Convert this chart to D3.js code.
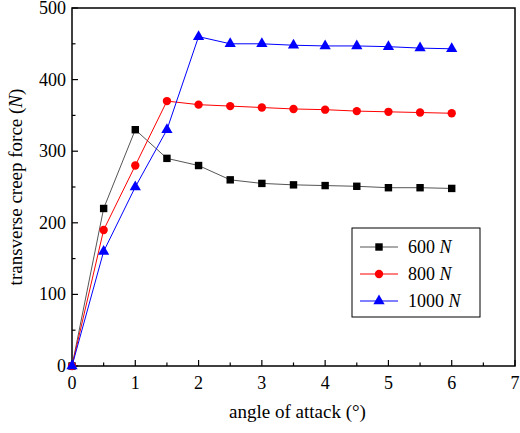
<!DOCTYPE html>
<html><head><meta charset="utf-8">
<script src="https://cdn.jsdelivr.net/npm/d3@7"></script>
<style>body{margin:0;background:#fff}svg text{font-family:"Liberation Serif","DejaVu Serif",serif}</style>
</head><body>
<svg id="c" width="520" height="433"></svg>
<script>
var angles = [0, 0.5, 1, 1.5, 2, 2.5, 3, 3.5, 4, 4.5, 5, 5.5, 6];
var f600 = [0, 220, 330, 290, 280, 260, 255, 253, 252, 251, 249, 249, 248];
var f800 = [0, 190, 280, 370, 365, 363, 361, 359, 358, 356, 355, 354, 353];
var f1000 = [0, 160, 250, 330, 460, 450, 450, 448, 447, 447, 446, 444, 443];
var seriesNames = ["600", "800", "1000"];
var xTicks = [0, 1, 2, 3, 4, 5, 6, 7];
var yTicks = [0, 100, 200, 300, 400, 500];

var svg = d3.select("#c");
var L = 72, R = 515, T = 8, B = 366;
var x = d3.scaleLinear().domain([0, 7]).range([L, R]);
var y = d3.scaleLinear().domain([0, 500]).range([B, T]);

// frame
svg.append("rect").attr("x", L).attr("y", T).attr("width", R - L).attr("height", B - T)
	.attr("fill", "none").attr("stroke", "#000").attr("stroke-width", 1.5);

// ticks (inward, with minors)
var g = svg.append("g").attr("stroke", "#000").attr("stroke-width", 1.2);
d3.range(0, 7.01, 0.5).forEach(function(v) {
	var len = v % 1 === 0 ? 6 : 3.5;
	g.append("line").attr("x1", x(v)).attr("x2", x(v)).attr("y1", B).attr("y2", B - len);
});
d3.range(0, 501, 50).forEach(function(v) {
	var len = v % 100 === 0 ? 6 : 3.5;
	g.append("line").attr("x1", L).attr("x2", L + len).attr("y1", y(v)).attr("y2", y(v));
});
svg.selectAll(".xt").data(xTicks).enter().append("text")
	.attr("x", function(d) { return x(d); }).attr("y", B + 23)
	.attr("text-anchor", "middle").attr("font-size", 18).text(function(d) { return d; });
svg.selectAll(".yt").data(yTicks).enter().append("text")
	.attr("x", L - 6).attr("y", function(d) { return y(d) + 6; })
	.attr("text-anchor", "end").attr("font-size", 18).text(function(d) { return d; });

svg.append("text").attr("x", (L + R) / 2 + 4).attr("y", 418).attr("text-anchor", "middle")
	.attr("font-size", 19).text("angle of attack (°)");
var yl = svg.append("text").attr("transform", "translate(22," + ((T + B) / 2) + ") rotate(-90)")
	.attr("text-anchor", "middle").attr("font-size", 19);
yl.append("tspan").text("transverse creep force (");
yl.append("tspan").attr("font-style", "italic").text("N");
yl.append("tspan").text(")");

var series = [
	{name: seriesNames[0], vals: f600, color: "#000000", line: "#555", shape: d3.symbolSquare},
	{name: seriesNames[1], vals: f800, color: "#ff0000", line: "#ff0000", shape: d3.symbolCircle},
	{name: seriesNames[2], vals: f1000, color: "#0000ff", line: "#0000ff", shape: d3.symbolTriangle}
];
var line = d3.line().x(function(d, i) { return x(angles[i]); }).y(function(d) { return y(d); });
series.forEach(function(s) {
	svg.append("path").attr("d", line(s.vals)).attr("fill", "none").attr("stroke", s.line).attr("stroke-width", 1);
	svg.selectAll(null).data(s.vals).enter().append("path")
		.attr("d", d3.symbol().type(s.shape).size(55))
		.attr("transform", function(d, i) { return "translate(" + x(angles[i]) + "," + y(d) + ")"; })
		.attr("fill", s.color);
});

// legend
svg.append("rect").attr("x", 352).attr("y", 228).attr("width", 128).attr("height", 89)
	.attr("fill", "#fff").attr("stroke", "#000").attr("stroke-width", 1);
series.forEach(function(s, i) {
	var ly = 247 + i * 27;
	svg.append("line").attr("x1", 360).attr("x2", 398).attr("y1", ly).attr("y2", ly).attr("stroke", s.line);
	svg.append("path").attr("d", d3.symbol().type(s.shape).size(55)())
		.attr("transform", "translate(379," + ly + ")").attr("fill", s.color);
	var t = svg.append("text").attr("x", 408).attr("y", ly + 6).attr("font-size", 18);
	t.append("tspan").text(s.name + " ");
	t.append("tspan").attr("font-style", "italic").text("N");
});
</script>
</body></html>
